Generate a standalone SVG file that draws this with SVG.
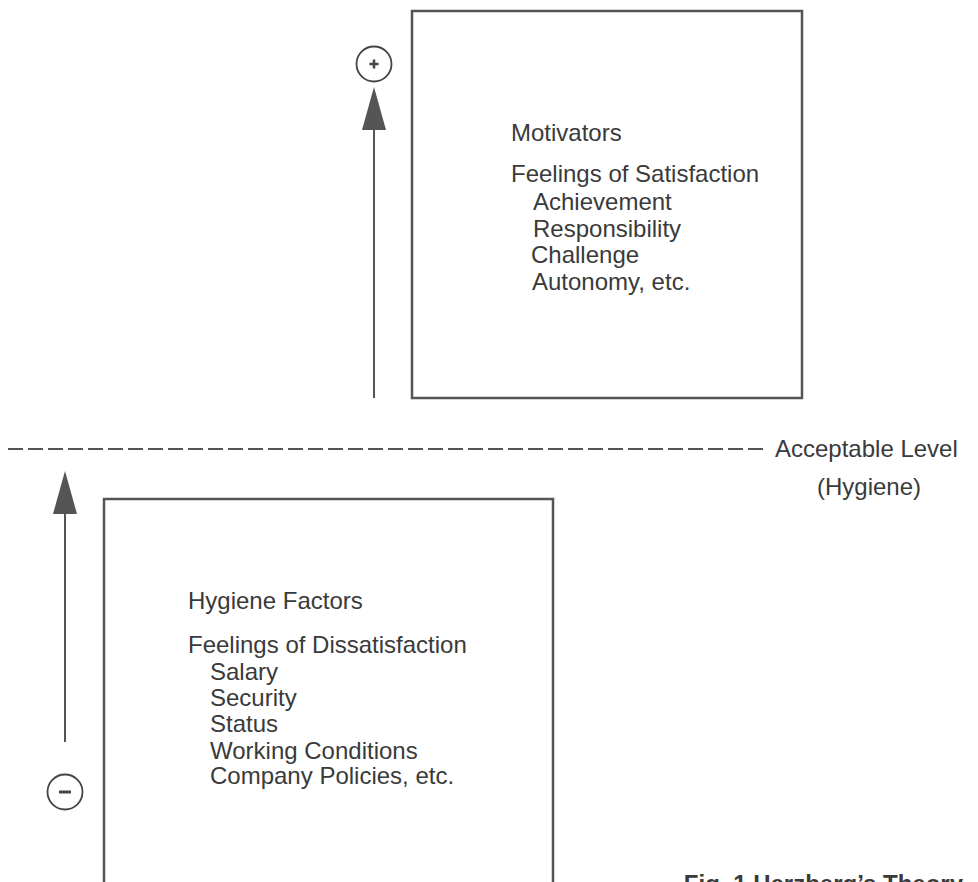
<svg xmlns="http://www.w3.org/2000/svg" width="978" height="882" viewBox="0 0 978 882">
<defs>
<style>
.box{fill:none;stroke:#555;stroke-width:2.5}
.t{font-family:"Liberation Sans",Arial,sans-serif;font-size:24px;fill:#3a3a3a}
.cap{font-family:"Liberation Sans",Arial,sans-serif;font-size:24px;font-weight:bold;fill:#3a3a3a}
.ln{stroke:#555;stroke-width:2;fill:none}
.head{fill:#555}
</style>
</defs>
<rect width="978" height="882" fill="#fff"/>
<g id="motivators">
<rect class="box" x="412" y="11" width="390" height="387"/>
<text class="t" x="511" y="141">Motivators</text>
<text class="t" x="511" y="182">Feelings of Satisfaction</text>
<text class="t" x="533" y="210">Achievement</text>
<text class="t" x="533" y="237">Responsibility</text>
<text class="t" x="531" y="263">Challenge</text>
<text class="t" x="532" y="290">Autonomy, etc.</text>
</g>
<g id="hygiene">
<path class="box" d="M104,884 V499 H553 V884"/>
<text class="t" x="188" y="609">Hygiene Factors</text>
<text class="t" x="188" y="653">Feelings of Dissatisfaction</text>
<text class="t" x="210" y="680">Salary</text>
<text class="t" x="210" y="706">Security</text>
<text class="t" x="210" y="732">Status</text>
<text class="t" x="210" y="759">Working Conditions</text>
<text class="t" x="210" y="784">Company Policies, etc.</text>
</g>
<g id="acceptable-level">
<line x1="8" y1="449" x2="765" y2="449" stroke="#555" stroke-width="2.2" stroke-dasharray="15,5"/>
<text class="t" x="775" y="457">Acceptable Level</text>
<text class="t" x="817" y="495">(Hygiene)</text>
</g>
<g id="plus-sign">
<circle cx="374" cy="64" r="17.5" fill="none" stroke="#444" stroke-width="1.8"/>
<path d="M369.5,64 H378.5 M374,59.5 V68.5" stroke="#444" stroke-width="2.5"/>
</g>
<g id="minus-sign">
<circle cx="65" cy="792" r="17.5" fill="none" stroke="#444" stroke-width="1.8"/>
<path d="M59,792 H71" stroke="#444" stroke-width="3"/>
</g>
<g id="connectors">
<line class="ln" x1="374" y1="127" x2="374" y2="398"/>
<polygon class="head" points="374,87 362,130 386,130"/>
<line class="ln" x1="65" y1="512" x2="65" y2="742"/>
<polygon class="head" points="65,471 53,514 77,514"/>
</g>
<g id="caption">
<text class="cap" x="963" y="892" text-anchor="end">Fig. 1 Herzberg’s Theory</text>
</g>
</svg>
